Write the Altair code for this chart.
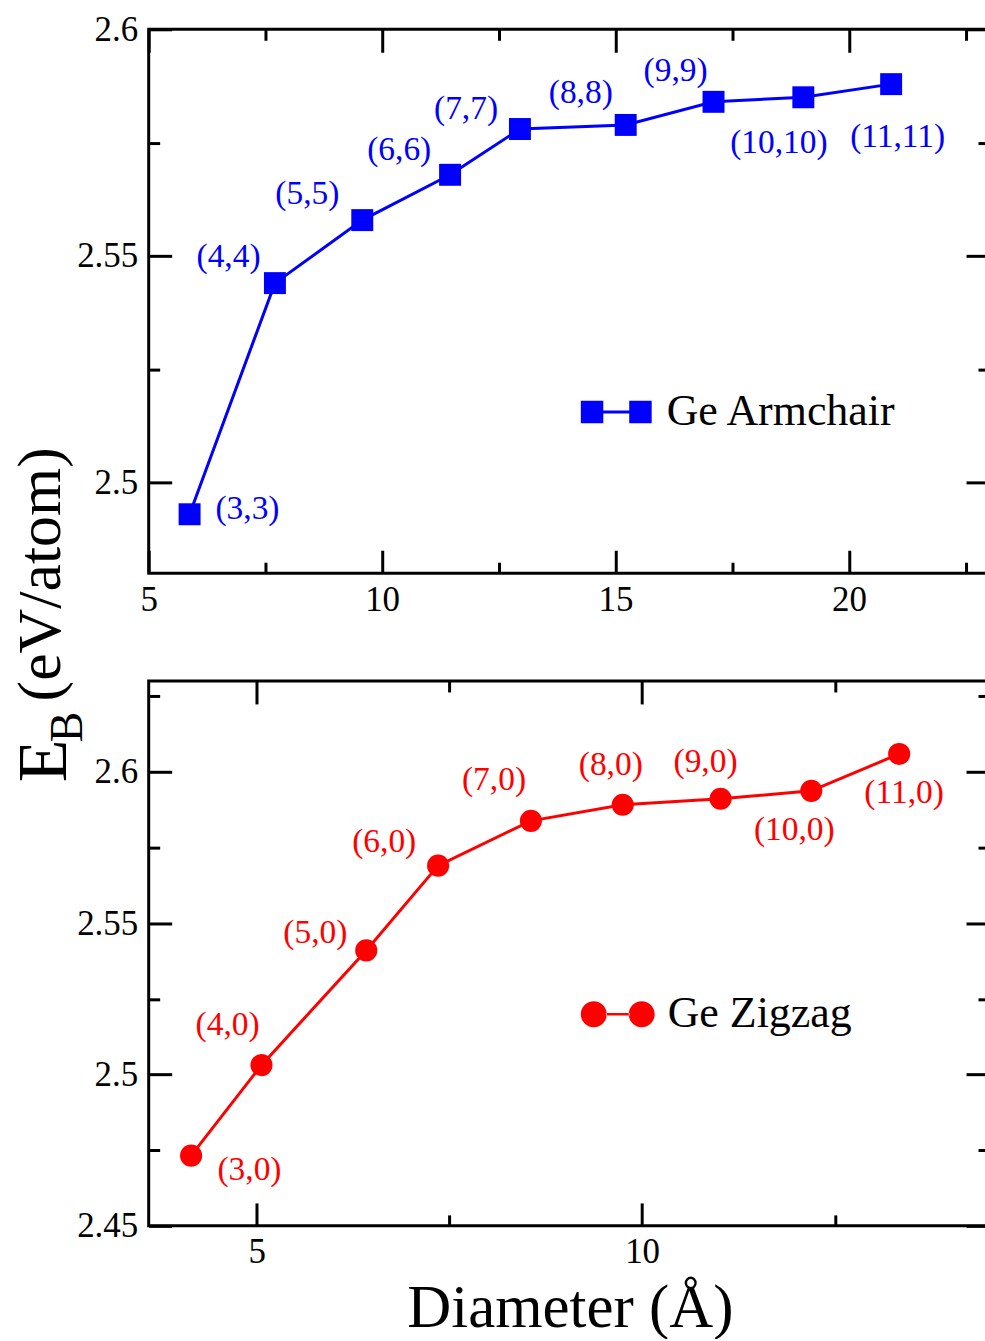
import altair as alt
import pandas as pd

FONT = "Liberation Serif"

# Ge armchair (n,n) tubes: diameter (Å) and binding energy (eV/atom)
arm_labels = ["(3,3)", "(4,4)", "(5,5)", "(6,6)", "(7,7)", "(8,8)", "(9,9)", "(10,10)", "(11,11)"]
arm_diam = [5.876, 7.704, 9.575, 11.456, 12.952, 15.218, 17.099, 19.023, 20.904]
arm_eb = [2.4930, 2.5440, 2.5579, 2.5679, 2.5780, 2.5789, 2.5840, 2.5850, 2.5879]
arm_label_x = [7.116, 6.710, 8.399, 10.366, 11.798, 14.256, 16.287, 18.50, 21.043]
arm_label_y = [2.4942, 2.5498, 2.5637, 2.5734, 2.5824, 2.5859, 2.5908, 2.5748, 2.5762]

# Ge zigzag (n,0) tubes
zig_labels = ["(3,0)", "(4,0)", "(5,0)", "(6,0)", "(7,0)", "(8,0)", "(9,0)", "(10,0)", "(11,0)"]
zig_diam = [4.150, 5.063, 6.422, 7.354, 8.558, 9.749, 11.018, 12.195, 13.335]
zig_eb = [2.4732, 2.5031, 2.5410, 2.5690, 2.5838, 2.5891, 2.5911, 2.5937, 2.6059]
zig_label_x = [4.907, 4.623, 5.762, 6.655, 8.079, 9.594, 10.823, 11.975, 13.399]
zig_label_y = [2.4686, 2.5163, 2.5469, 2.5769, 2.5974, 2.6023, 2.6033, 2.5809, 2.5931]

# axis ranges and tick positions
arm_xdom, arm_ydom = [5, 23], [2.48, 2.6]
arm_xlab, arm_ylab = [5, 10, 15, 20], [2.5, 2.55, 2.6]
arm_xticks = [5, 7.5, 10, 12.5, 15, 17.5, 20, 22.5]
arm_yticks = [2.5, 2.525, 2.55, 2.575, 2.6]

zig_xdom, zig_ydom = [3.6, 14.5], [2.45, 2.63]
zig_xlab, zig_ylab = [5, 10], [2.45, 2.5, 2.55, 2.6]
zig_xticks = [5, 7.5, 10, 12.5]
zig_yticks = [2.45, 2.475, 2.5, 2.525, 2.55, 2.575, 2.6, 2.625]

W = 842
H_TOP, H_BOT = 545, 546
TICK_FONT = 35
POINT_FONT = 33.5

MAJOR_X = "datum.value % 5 === 0"
MAJOR_Y = "abs(datum.value * 20 - round(datum.value * 20)) < 0.000001"

# legend glyphs: marker - line - marker
SQUARE_PAIR = ("M-1,-0.317H-0.366V-0.042H0.366V-0.317H1V0.317H0.366V0.042"
               "H-0.366V0.317H-1Z")
CIRCLE_PAIR = ("M-1,0A0.351,0.351 0 1,0 -0.298,0A0.351,0.351 0 1,0 -1,0Z"
               "M0.298,0A0.351,0.351 0 1,0 1,0A0.351,0.351 0 1,0 0.298,0Z"
               "M-0.32,-0.034H0.32V0.034H-0.32Z")


def title_kw(text, size, x, y, angle, align="left"):
    return dict(title=text, titleFont=FONT, titleFontSize=size, titleFontWeight="normal",
                titleColor="black", titleAngle=angle, titleX=x, titleY=y,
                titleAlign=align, titleBaseline="alphabetic")


def label_axis(orient, values, pad, **kw):
    kw.setdefault("title", None)
    return alt.Axis(orient=orient, values=values, labelExpr="'' + datum.value",
                    ticks=False, tickSize=0, domain=False, grid=False,
                    labelFont=FONT, labelFontSize=TICK_FONT, labelFontWeight="normal",
                    labelColor="black", labelPadding=pad, labelFlush=False,
                    labelOverlap=False, **kw)


def tick_axis(orient, offset, values, test, **kw):
    kw.setdefault("title", None)
    return alt.Axis(orient=orient, offset=offset, values=values, labels=False, domain=False,
                    grid=False, ticks=True, tickColor="black", tickWidth=3,
                    tickSize={"condition": {"test": test, "value": 23}, "value": 11}, **kw)


def panel(name, color, diam, eb, labels, lx, ly, xdom, ydom, xlab, ylab, xticks, yticks,
          H, marker, glyph, glyph_size, legend_xy, label_offset, extra):
    df = pd.DataFrame({"d": diam, "e": eb, "lx": lx, "ly": ly, "lab": labels,
                       "series": [name] * len(diam)})
    xs = alt.Scale(domain=xdom, nice=False, zero=False)
    ys = alt.Scale(domain=ydom, nice=False, zero=False)
    base = alt.Chart(df)

    line = base.mark_line(color=color, strokeWidth=3).encode(
        x=alt.X("d:Q", scale=xs, axis=label_axis("bottom", xlab, 9, **extra.get("xb", {}))),
        y=alt.Y("e:Q", scale=ys, axis=label_axis("left", ylab, 11, **extra.get("yl", {}))),
    )
    pts = marker(base).encode(
        x=alt.X("d:Q", scale=xs, axis=tick_axis("top", -H, xticks, MAJOR_X)),
        y=alt.Y("e:Q", scale=ys, axis=tick_axis("right", -W, yticks, MAJOR_Y, **extra.get("yr", {}))),
        color=alt.Color("series:N", scale=alt.Scale(domain=[name], range=[color]),
                        legend=alt.Legend(orient="none", legendX=legend_xy[0], legendY=legend_xy[1],
                                          title=None, symbolType=glyph, symbolSize=glyph_size,
                                          symbolStrokeWidth=0, padding=0,
                                          labelFont=FONT, labelFontSize=44, labelColor="black",
                                          labelOffset=label_offset, labelLimit=500)),
    )
    txt = base.mark_text(font=FONT, fontSize=POINT_FONT, color=color, align="center",
                         baseline="middle").encode(
        x=alt.X("lx:Q", scale=xs, axis=tick_axis("bottom", -H, xticks, MAJOR_X)),
        y=alt.Y("ly:Q", scale=ys, axis=tick_axis("left", -W, yticks, MAJOR_Y, **extra.get("yo", {}))),
        text="lab:N",
    )
    return (alt.layer(line, pts, txt)
            .resolve_axis(x="independent", y="independent")
            .properties(width=W, height=H))


top = panel("Ge Armchair", "#0000ff", arm_diam, arm_eb, arm_labels, arm_label_x, arm_label_y,
            arm_xdom, arm_ydom, arm_xlab, arm_ylab, arm_xticks, arm_yticks, H_TOP,
            lambda b: b.mark_square(size=484, opacity=1), SQUARE_PAIR, 5041, (433, 348), 15, {})

bottom_titles = {
    "xb": title_kw("Diameter (Å)", 61, W / 2 + 1, 101, 0, align="center"),
    "yl": title_kw("(eV/atom)", 62, -89, 20, 270),
    "yr": title_kw("E", 70, -83, 101, 270),
    "yo": title_kw("B", 46, -67 - W, 61, 270),
}
bottom = panel("Ge Zigzag", "#ff0000", zig_diam, zig_eb, zig_labels, zig_label_x, zig_label_y,
               zig_xdom, zig_ydom, zig_xlab, zig_ylab, zig_xticks, zig_yticks, H_BOT,
               lambda b: b.mark_circle(size=491, opacity=1), CIRCLE_PAIR, 5476, (433, 297), 13,
               bottom_titles)

chart = (alt.vconcat(top, bottom, spacing=108, bounds="flush")
         .resolve_scale(color="independent")
         .configure_axis(labelFont=FONT, labelFontSize=TICK_FONT, labelColor="black",
                         titleFont=FONT)
         .configure_view(stroke="black", strokeWidth=3)
         .properties(background="white",
                     padding={"left": 8, "top": 9, "right": -7, "bottom": -3}))

chart.save("out.html", embed_options={"renderer": "svg", "actions": False})
